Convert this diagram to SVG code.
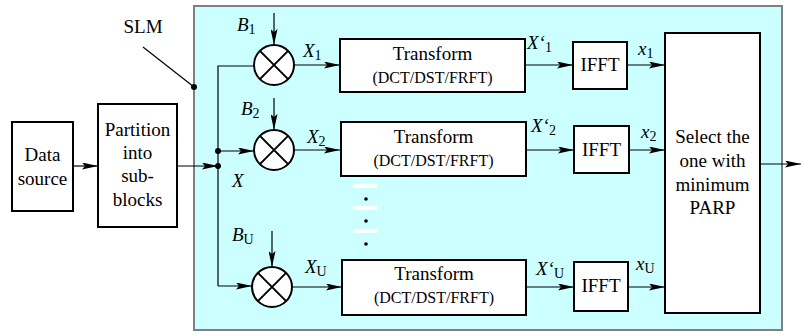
<svg xmlns="http://www.w3.org/2000/svg" width="801" height="334" viewBox="0 0 801 334">
<style>
text{font-family:"Liberation Serif","Times New Roman",serif;fill:#000}
.t{font-size:19px;text-anchor:middle}
.s{font-size:16px;text-anchor:middle}
.i{font-size:19px;font-style:italic}
.sub{font-size:14px;font-style:normal}
.box{fill:#fff;stroke:#000;stroke-width:2}
.mix{fill:#fff;stroke:#000;stroke-width:2}
.ln{fill:none;stroke:#000;stroke-width:1.2}
.ar{fill:none;stroke:#000;stroke-width:1.2;marker-end:url(#ah)}
</style>
<defs>
<marker id="ah" viewBox="0 0 16 7" refX="16" refY="3.5" markerWidth="16" markerHeight="7" markerUnits="userSpaceOnUse" orient="auto">
<path d="M0,0 L16,3.5 L0,7 L3,3.5 Z" fill="#000"/>
</marker>
</defs>
<g id="slm">
<rect x="194" y="6" width="588" height="324" fill="#ccffff" stroke="#7f7f7f" stroke-width="2"/>
<text class="t" x="143" y="33">SLM</text>
</g>
<g id="connectors">
<line class="ln" x1="143" y1="47" x2="194" y2="87"/>
<circle cx="194" cy="87" r="3" fill="#000"/>
<line class="ar" x1="73" y1="166" x2="98" y2="166"/>
<line class="ar" x1="177" y1="166" x2="218" y2="166"/>
<polyline class="ln" points="254,66 218,66 218,286"/>
<line class="ar" x1="218" y1="286" x2="252" y2="286"/>
<line class="ar" x1="218" y1="151" x2="254" y2="151"/>
<circle cx="218" cy="166" r="3" fill="#000"/>
<circle cx="218" cy="151" r="3" fill="#000"/>
<line class="ar" x1="274" y1="13" x2="274" y2="45"/>
<line class="ar" x1="274" y1="98" x2="274" y2="130"/>
<line class="ar" x1="272" y1="231" x2="272" y2="267"/>
<line class="ar" x1="294" y1="65" x2="340" y2="65"/>
<line class="ar" x1="294" y1="150" x2="340" y2="150"/>
<line class="ar" x1="292" y1="287" x2="342" y2="287"/>
<line class="ar" x1="525" y1="65" x2="573" y2="65"/>
<line class="ar" x1="526" y1="150" x2="574" y2="150"/>
<line class="ar" x1="526" y1="287" x2="574" y2="287"/>
<line class="ar" x1="627" y1="65" x2="665" y2="65"/>
<line class="ar" x1="629" y1="150" x2="665" y2="150"/>
<line class="ar" x1="628" y1="287" x2="665" y2="287"/>
<line class="ar" x1="760" y1="164" x2="801" y2="164"/>
</g>
<g id="datasource">
<rect class="box" x="12" y="122" width="61" height="89"/>
<text class="t" x="42.5" y="161">Data</text>
<text class="t" x="42.5" y="185">source</text>
</g>
<g id="partition">
<rect class="box" x="98" y="104" width="79" height="123"/>
<text class="t" x="137.5" y="136">Partition</text>
<text class="t" x="137.5" y="159">into</text>
<text class="t" x="137.5" y="182">sub-</text>
<text class="t" x="137.5" y="206">blocks</text>
</g>
<g id="mixer1">
<circle class="mix" cx="274" cy="65" r="20"/>
<path class="ln" d="M259.9,50.9 L288.1,79.1 M288.1,50.9 L259.9,79.1" style="stroke-width:2"/>
<text class="i" x="237" y="31">B<tspan class="sub" dy="3">1</tspan></text>
</g>
<g id="mixer2">
<circle class="mix" cx="274" cy="150" r="20"/>
<path class="ln" d="M259.9,135.9 L288.1,164.1 M288.1,135.9 L259.9,164.1" style="stroke-width:2"/>
<text class="i" x="241" y="115">B<tspan class="sub" dy="3">2</tspan></text>
</g>
<g id="mixerU">
<circle class="mix" cx="272" cy="287" r="20"/>
<path class="ln" d="M257.9,272.9 L286.1,301.1 M286.1,272.9 L257.9,301.1" style="stroke-width:2"/>
<text class="i" x="232" y="241">B<tspan class="sub" dy="3">U</tspan></text>
</g>
<g id="labels">
<text class="i" x="232" y="187">X</text>
<text class="i" x="303" y="57">X<tspan class="sub" dy="3">1</tspan></text>
<text class="i" x="307" y="143">X<tspan class="sub" dy="3">2</tspan></text>
<text class="i" x="305" y="273">X<tspan class="sub" dy="3">U</tspan></text>
<text class="i" x="527" y="49">X‘<tspan class="sub" dy="3">1</tspan></text>
<text class="i" x="531" y="132">X‘<tspan class="sub" dy="3">2</tspan></text>
<text class="i" x="536" y="275">X‘<tspan class="sub" dy="3">U</tspan></text>
<text class="i" x="638" y="55">x<tspan class="sub" dy="3">1</tspan></text>
<text class="i" x="641" y="138">x<tspan class="sub" dy="3">2</tspan></text>
<text class="i" x="636" y="270">x<tspan class="sub" dy="3">U</tspan></text>
</g>
<g id="transform1">
<rect class="box" x="340" y="39" width="185" height="53"/>
<text class="t" x="432.5" y="60">Transform</text>
<text class="s" x="432.5" y="83">(DCT/DST/FRFT)</text>
</g>
<g id="transform2">
<rect class="box" x="341" y="122" width="185" height="54"/>
<text class="t" x="433.5" y="143">Transform</text>
<text class="s" x="433.5" y="166">(DCT/DST/FRFT)</text>
</g>
<g id="ellipsis">
<rect x="353" y="184" width="24" height="4" fill="#fff"/>
<rect x="353" y="206" width="24" height="4" fill="#fff"/>
<rect x="353" y="229" width="24" height="4" fill="#fff"/>
<circle cx="366" cy="199" r="1.8" fill="#000"/>
<circle cx="366" cy="221" r="1.8" fill="#000"/>
<circle cx="366" cy="244" r="1.8" fill="#000"/>
</g>
<g id="transformU">
<rect class="box" x="342" y="260" width="184" height="55"/>
<text class="t" x="434" y="280">Transform</text>
<text class="s" x="434" y="303">(DCT/DST/FRFT)</text>
</g>
<g id="ifft1">
<rect class="box" x="573" y="42" width="54" height="47"/>
<text class="t" x="600" y="71">IFFT</text>
</g>
<g id="ifft2">
<rect class="box" x="574" y="126" width="55" height="47"/>
<text class="t" x="601.5" y="156">IFFT</text>
</g>
<g id="ifftU">
<rect class="box" x="574" y="262" width="54" height="49"/>
<text class="t" x="601" y="292">IFFT</text>
</g>
<g id="select">
<rect class="box" x="665" y="33" width="95" height="280"/>
<text class="t" x="712.5" y="143">Select the</text>
<text class="t" x="712.5" y="167">one with</text>
<text class="t" x="712.5" y="191">minimum</text>
<text class="t" x="712.5" y="214">PARP</text>
</g>
</svg>
